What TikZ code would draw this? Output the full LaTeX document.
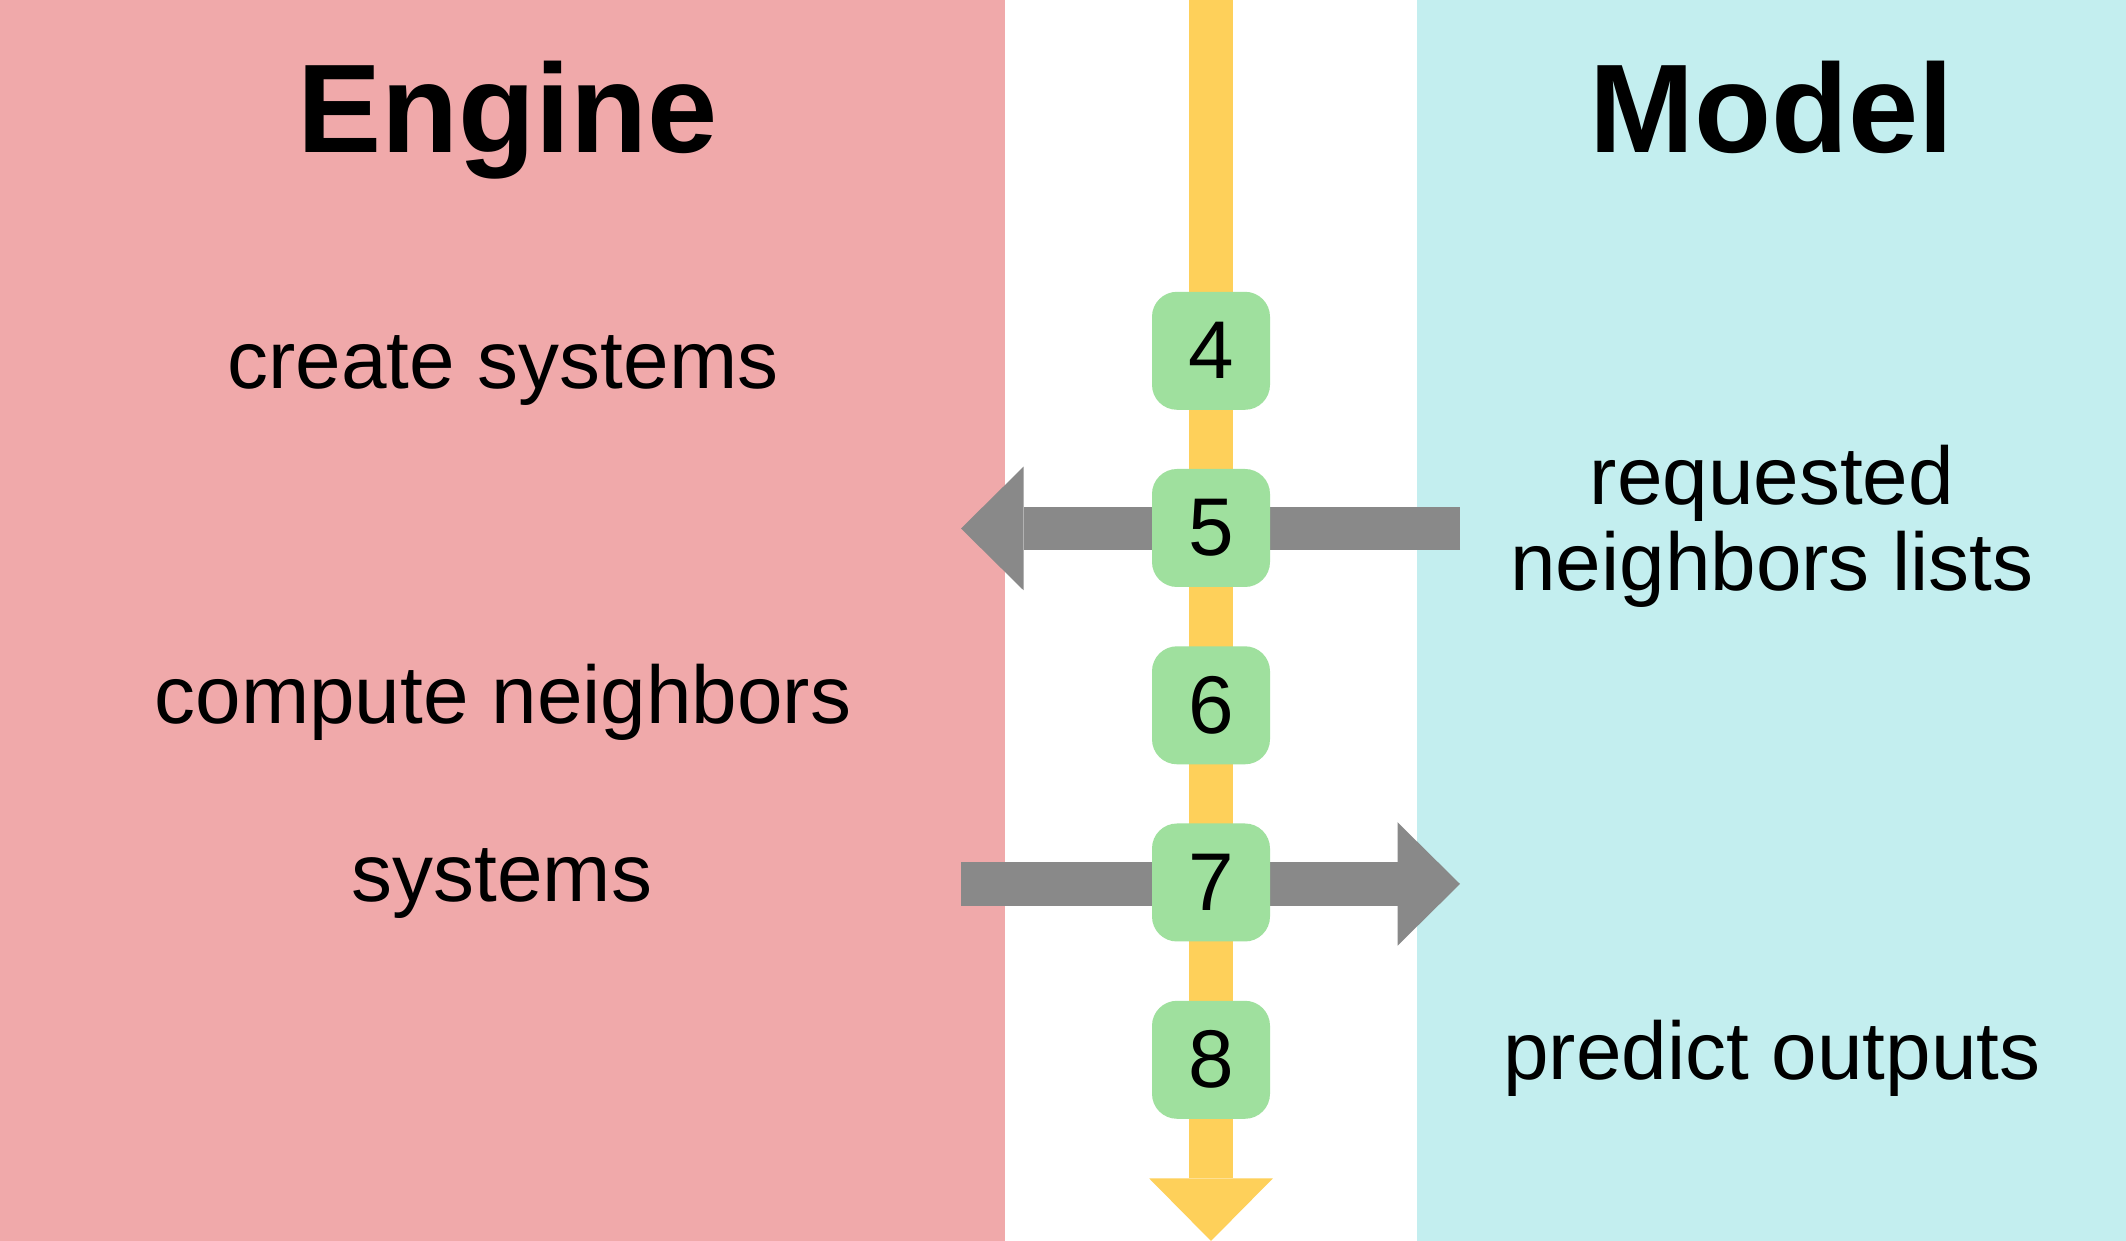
\documentclass[tikz,border=0pt]{standalone}
\usepackage{fontspec}
\setmainfont{Liberation Sans}
\usetikzlibrary{arrows.meta}
\definecolor{enginepink}{RGB}{240,169,170}
\definecolor{modelcyan}{RGB}{195,238,239}
\definecolor{timeyellow}{RGB}{254,208,90}
\definecolor{stepgreen}{RGB}{159,224,158}
\definecolor{flowgray}{RGB}{137,137,137}
\tikzset{
	stepnum/.style={fill=stepgreen, rounded corners=0.25cm, minimum width=1.18cm, minimum height=1.18cm, inner sep=0pt, font=\fontsize{23.3}{24.4}\selectfont},
	steptext/.style={anchor=base, inner sep=0pt, align=center, font=\fontsize{23.3}{24.4}\selectfont},
	coltitle/.style={anchor=base, inner sep=0pt, font=\fontsize{35.9}{38}\selectfont\bfseries},
	fattip/.style={-{Triangle[length=0.625cm, width=1.235cm, line width=0pt]}},
	flow/.style={line width=0.435cm, color=flowgray, fattip},
}

\begin{document}
\begin{tikzpicture}
			%%%%% START %%%%%
			
			\useasboundingbox (0, 0) rectangle (21.26, 12.41);
			\fill[white] (0, 0) rectangle (21.26, 12.41);
			
			\fill[enginepink] (0, 0) rectangle (10.05, 12.41);
			\fill[modelcyan] (14.17, 0) rectangle (21.26, 12.41);
			
			\node[coltitle] (engine) at (5.075, 10.883) {Engine};
			\node[coltitle] (model) at (17.715, 10.883) {Model};
			
			\node[steptext] (create) at (5.03, 8.52) {create systems};
			\node[steptext] (compute) at (5.03, 5.17) {compute neighbors};
			\node[steptext] (systems) at (5.02, 3.393) {systems};
			% base of a two-line node is the lower line
			\node[steptext] (requested) at (17.72, 6.503) {requested\\neighbors lists};
			\node[steptext] (predict) at (17.72, 1.61) {predict outputs};
			
			\coordinate (top) at (12.11, 12.41);
			\coordinate (bottom) at (12.11, 0);
			\draw[line width=0.44cm, color=timeyellow, fattip] (top) -- (bottom);
			
			\coordinate (modelfive) at (14.60, 7.125);
			\coordinate (enginefive) at (9.61, 7.125);
			\draw[flow] (modelfive) -- (enginefive);
			
			\coordinate (engineseven) at (9.61, 3.57);
			\coordinate (modelseven) at (14.60, 3.57);
			\draw[flow] (engineseven) -- (modelseven);
			
			\node[stepnum] (four) at (12.11, 8.902) {4};
			\node[stepnum] (five) at (12.11, 7.13) {5};
			\node[stepnum] (six) at (12.11, 5.357) {6};
			\node[stepnum] (seven) at (12.11, 3.585) {7};
			\node[stepnum] (eight) at (12.11, 1.812) {8};
			
			%%%%% END %%%%%
		\end{tikzpicture}
\end{document}
